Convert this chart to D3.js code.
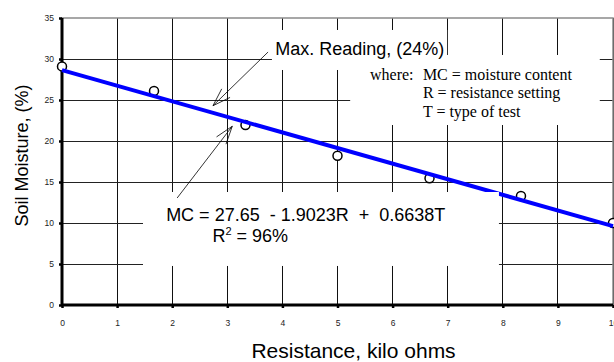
<!DOCTYPE html>
<html>
<head>
<meta charset="utf-8">
<script src="https://cdn.jsdelivr.net/npm/d3@7/dist/d3.min.js"></script>
<style>
  body { margin: 0; background: #fff; }
  text { white-space: pre; }
</style>
</head>
<body>
<svg id="chart" width="614" height="362"></svg>
<script>
/*
  Soil moisture vs resistance, with regression line and notes
*/

// measured points (resistance kOhm, soil moisture %)
const resistance = [0, 1.67, 3.33, 5, 6.67, 8.33, 10];
const moisture = [29.1, 26.1, 21.95, 18.2, 15.45, 13.3, 10.0];

// regression line MC = 27.65 - 1.9023R + 0.6638T, drawn end to end
const fitR = [0, 10];
const fitMC = [28.65, 9.62];

const xTicks = [0, 1, 2, 3, 4, 5, 6, 7, 8, 9, 10];
const yTicks = [0, 5, 10, 15, 20, 25, 30, 35];

const eqLines = ['MC = 27.65  - 1.9023R  +  0.6638T'];
const whereLines = [
  ['where:', 'MC = moisture content'],
  ['', 'R = resistance setting'],
  ['', 'T = type of test']
];

const WIDTH = 614;
const HEIGHT = 362;
const margin = { left: 62, right: 1, top: 18, bottom: 57 };

const scale = {};
scale.x = d3.scaleLinear()
  .domain([0, 10])
  .range([margin.left, WIDTH - margin.right]);
scale.y = d3.scaleLinear()
  .domain([0, 35])
  .range([HEIGHT - margin.bottom, margin.top]);

const svg = d3.select('#chart');
const sans = 'Liberation Sans, Arial, sans-serif';
const serif = 'Liberation Serif, Times New Roman, serif';

/*
 * Grid
 */
const grid = svg.append('g').attr('shape-rendering', 'crispEdges');
grid.selectAll('.vgrid')
  .data(xTicks.slice(1))
  .enter().append('line')
  .attr('x1', d => scale.x(d)).attr('x2', d => scale.x(d))
  .attr('y1', scale.y(35)).attr('y2', scale.y(0))
  .attr('stroke', '#111').attr('stroke-width', 1);
grid.selectAll('.hgrid')
  .data(yTicks.slice(1, -1))
  .enter().append('line')
  .attr('x1', scale.x(0)).attr('x2', scale.x(10))
  .attr('y1', d => scale.y(d)).attr('y2', d => scale.y(d))
  .attr('stroke', '#222').attr('stroke-width', 1);

// plot frame
svg.append('rect')
  .attr('x', scale.x(0)).attr('y', scale.y(35))
  .attr('width', scale.x(10) - scale.x(0))
  .attr('height', scale.y(0) - scale.y(35))
  .attr('fill', 'none')
  .attr('stroke', '#8a8a8a')
  .attr('stroke-width', 1.5);

/*
 * Axes
 */
const axisX = d3.axisBottom(scale.x)
  .tickValues(xTicks).tickSize(3).tickPadding(12);
const axisY = d3.axisLeft(scale.y)
  .tickValues(yTicks).tickSize(3).tickPadding(5);

function styleAxis(g) {
  g.select('.domain').remove();
  g.selectAll('.tick line').attr('stroke', '#000').attr('stroke-width', 2.5);
  g.selectAll('.tick text')
    .attr('fill', '#222')
    .style('font-family', sans)
    .style('font-size', '8.5px');
}

svg.append('g')
  .attr('transform', `translate(0, ${scale.y(0)})`)
  .call(axisX).call(styleAxis);
svg.append('g')
  .attr('transform', `translate(${scale.x(0)}, 0)`)
  .call(axisY).call(styleAxis);

// heavy axis lines
svg.append('line')
  .attr('x1', scale.x(0)).attr('x2', scale.x(10))
  .attr('y1', scale.y(0)).attr('y2', scale.y(0))
  .attr('stroke', '#000').attr('stroke-width', 3);
svg.append('line')
  .attr('x1', scale.x(0)).attr('x2', scale.x(0))
  .attr('y1', scale.y(0)).attr('y2', scale.y(35))
  .attr('stroke', '#000').attr('stroke-width', 3);

/*
 * Data points and fitted line
 */
svg.append('g').selectAll('circle')
  .data(resistance)
  .enter().append('circle')
  .attr('cx', d => scale.x(d))
  .attr('cy', (d, i) => scale.y(moisture[i]))
  .attr('r', 4.5)
  .attr('fill', '#fff')
  .attr('stroke', '#000')
  .attr('stroke-width', 1.5);

const line = d3.line()
  .x(d => scale.x(d[0]))
  .y(d => scale.y(d[1]));
svg.append('path')
  .datum(fitR.map((r, i) => [r, fitMC[i]]))
  .attr('d', line)
  .attr('fill', 'none')
  .attr('stroke', '#0000ff')
  .attr('stroke-width', 4);

/*
 * Annotation boxes (white, they hide the grid behind the text)
 * given in data units: [r0, r1, mcTop, mcBottom]
 */
const boxes = [
  [3.81, 6.99, 33.54, 28.66],
  [5.23, 9.76, 30.49, 21.95],
  [1.47, 7.93, 13.78, 4.76]
];
svg.append('g').selectAll('rect')
  .data(boxes)
  .enter().append('rect')
  .attr('x', d => scale.x(d[0]))
  .attr('y', d => scale.y(d[2]))
  .attr('width', d => scale.x(d[1]) - scale.x(d[0]))
  .attr('height', d => scale.y(d[3]) - scale.y(d[2]))
  .attr('fill', '#fff');

svg.append('text')
  .attr('x', scale.x(3.87)).attr('y', scale.y(30.5))
  .style('font-family', sans).style('font-size', '18px')
  .text('Max. Reading, (24%)');

const where = svg.append('g')
  .style('font-family', serif).style('font-size', '16px');
whereLines.forEach((l, i) => {
  const y = scale.y(27.44) + i * 18.3;
  if (l[0]) where.append('text').attr('x', scale.x(5.59)).attr('y', y).text(l[0]);
  where.append('text').attr('x', scale.x(6.55)).attr('y', y).text(l[1]);
});

svg.append('text')
  .attr('x', scale.x(1.89)).attr('y', scale.y(10.28))
  .style('font-family', sans).style('font-size', '18px')
  .text(eqLines[0]);

const r2 = svg.append('text')
  .attr('x', scale.x(2.73)).attr('y', scale.y(7.72))
  .style('font-family', sans).style('font-size', '18px');
r2.append('tspan').text('R');
r2.append('tspan').attr('dy', -7).style('font-size', '11px').text('2');
r2.append('tspan').attr('dy', 7).text(' = 96%');

/*
 * Arrows: [fromR, fromMC, tipR, tipMC]
 */
const arrows = [
  [3.74, 30.85, 2.74, 24.3],
  [2.09, 13.05, 3.09, 21.8]
];
const arrowG = svg.append('g')
  .attr('stroke', '#000').attr('stroke-width', 0.8).attr('fill', 'none');
arrows.forEach(a => {
  const x0 = scale.x(a[0]), y0 = scale.y(a[1]);
  const x1 = scale.x(a[2]), y1 = scale.y(a[3]);
  const ang = Math.atan2(y1 - y0, x1 - x0);
  const len = 19, spread = 0.32;
  arrowG.append('line')
    .attr('x1', x0).attr('y1', y0).attr('x2', x1).attr('y2', y1);
  [-spread, spread].forEach(s => {
    arrowG.append('line')
      .attr('x1', x1).attr('y1', y1)
      .attr('x2', x1 - len * Math.cos(ang + s))
      .attr('y2', y1 - len * Math.sin(ang + s));
  });
});

/*
 * Axis titles
 */
svg.append('text')
  .attr('x', (scale.x(0) + scale.x(10)) / 2 + 16)
  .attr('y', HEIGHT - 4)
  .attr('text-anchor', 'middle')
  .style('font-family', sans).style('font-size', '21px')
  .text('Resistance, kilo ohms');

svg.append('text')
  .attr('transform', `translate(28, ${(scale.y(0) + scale.y(35)) / 2 - 6}) rotate(-90)`)
  .attr('text-anchor', 'middle')
  .style('font-family', sans).style('font-size', '18px')
  .text('Soil Moisture, (%)');
</script>
</body>
</html>
